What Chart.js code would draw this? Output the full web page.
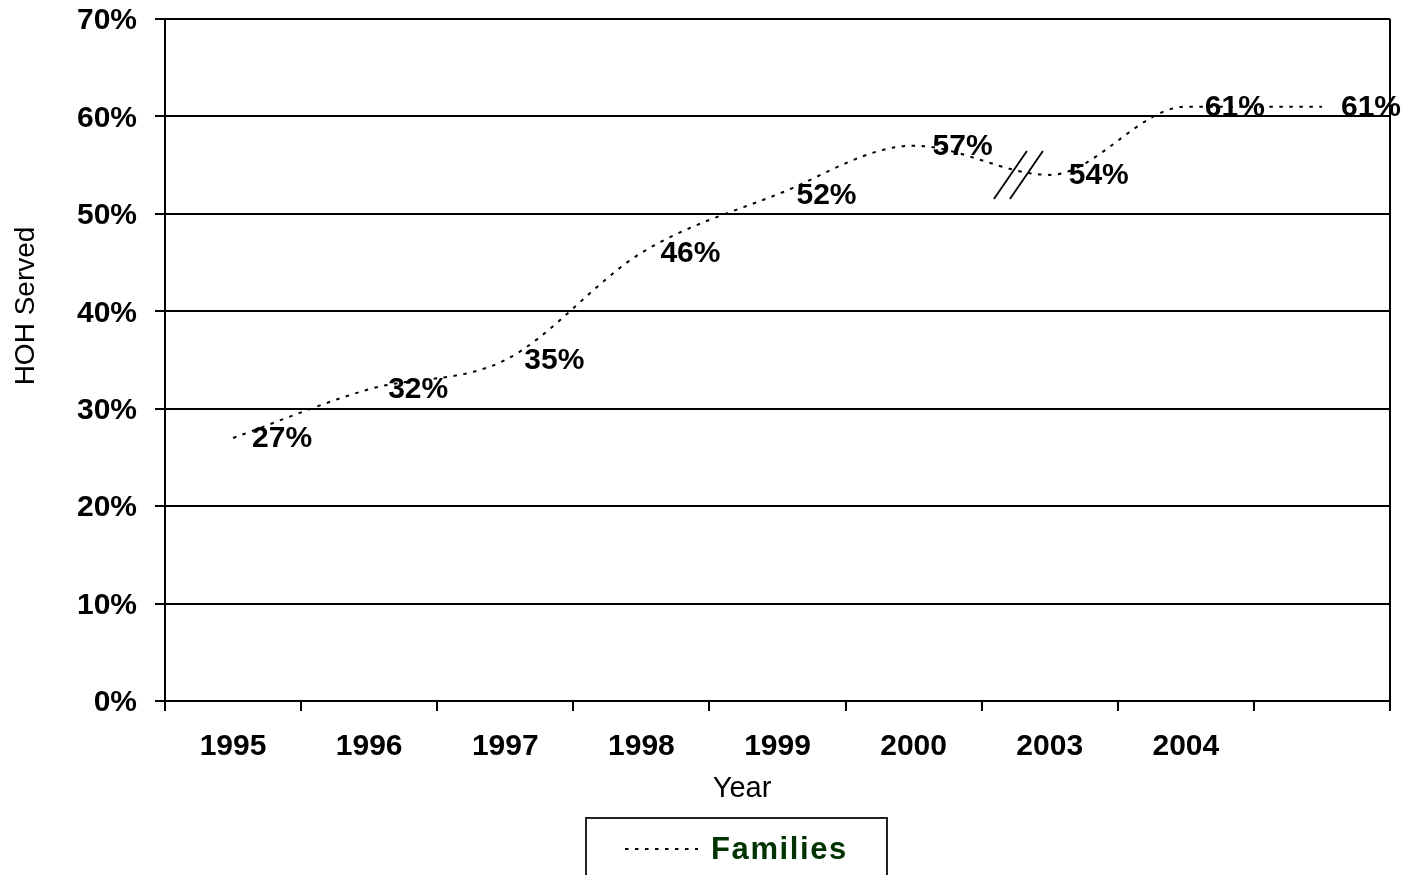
<!DOCTYPE html>
<html>
<head>
<meta charset="utf-8">
<title>HOH Served</title>
<script src="https://cdn.jsdelivr.net/npm/chart.js@4.4.0/dist/chart.umd.min.js"></script>
<style>
  html, body { margin: 0; padding: 0; background: #fff; }
  #wrap { width: 1403px; height: 875px; position: relative; }
</style>
</head>
<body>
<div id="wrap"><canvas id="hohChart"></canvas></div>
<script>
const years = ['1995', '1996', '1997', '1998', '1999', '2000', '2003', '2004', ''];
const familiesServed = [27, 32, 35, 46, 52, 57, 54, 61, 61];
const yTicks = [0, 10, 20, 30, 40, 50, 60, 70];

const FONT = "'Liberation Sans', Arial, Helvetica, sans-serif";

// value labels, drawn before the line so the dots run over them like the original
const pointLabels = {
  id: 'pointLabels',
  beforeDatasetsDraw(chart) {
    const ctx = chart.ctx;
    const meta = chart.getDatasetMeta(0);
    ctx.save();
    ctx.font = 'bold 30px ' + FONT;
    ctx.fillStyle = '#000';
    ctx.textAlign = 'left';
    ctx.textBaseline = 'middle';
    meta.data.forEach((pt, i) => {
      ctx.fillText(familiesServed[i] + '%', pt.x + 19, pt.y + 1);
    });
    ctx.restore();
  }
};

// right border of plot + the "//" axis break between 2000 and 2003
const frameAndBreak = {
  id: 'frameAndBreak',
  afterDraw(chart) {
    const ctx = chart.ctx;
    const area = chart.chartArea;
    const x = chart.scales.x, y = chart.scales.y;
    ctx.save();
    ctx.strokeStyle = '#000';
    ctx.lineWidth = 2;
    ctx.beginPath();
    ctx.moveTo(area.right, area.top);
    ctx.lineTo(area.right, area.bottom);
    ctx.stroke();

    const cx = x.getPixelForValue(5.77);
    const cy = y.getPixelForValue(54);
    ctx.lineWidth = 1.8;
    [-8, 8].forEach(dx => {
      ctx.beginPath();
      ctx.moveTo(cx + dx - 16.5, cy + 24);
      ctx.lineTo(cx + dx + 16.5, cy - 24);
      ctx.stroke();
    });
    ctx.restore();
  }
};

// axis titles (off-centre in the original) and the boxed legend
const titlesAndLegend = {
  id: 'titlesAndLegend',
  afterDraw(chart) {
    const ctx = chart.ctx;
    ctx.save();
    ctx.fillStyle = '#000';
    ctx.textAlign = 'center';
    ctx.textBaseline = 'middle';
    ctx.font = '29px ' + FONT;
    ctx.fillText('Year', 742, 789);

    ctx.save();
    ctx.translate(26, 306);
    ctx.rotate(-Math.PI / 2);
    ctx.font = '28px ' + FONT;
    ctx.fillText('HOH Served', 0, 0);
    ctx.restore();

    const left = 586, top = 818, w = 301, h = 70;
    ctx.strokeStyle = '#222';
    ctx.lineWidth = 2;
    ctx.strokeRect(left, top, w, h);
    const midY = top + 31;
    ctx.setLineDash([3.5, 6.5]);
    ctx.lineWidth = 2;
    ctx.strokeStyle = '#000';
    ctx.beginPath();
    ctx.moveTo(left + 39, midY);
    ctx.lineTo(left + 112, midY);
    ctx.stroke();
    ctx.setLineDash([]);
    ctx.font = 'bold 31px ' + FONT;
    ctx.letterSpacing = '1.6px';
    ctx.fillStyle = '#003300';
    ctx.textAlign = 'left';
    ctx.fillText('Families', left + 125, midY + 1);
    ctx.restore();
  }
};

const ctx = document.getElementById('hohChart').getContext('2d');

const hohChart = new Chart(ctx, {
  type: 'line',
  data: {
    labels: years,
    datasets: [{
      label: 'Families',
      data: familiesServed,
      borderColor: '#000',
      borderWidth: 2,
      borderDash: [3.5, 6.5],
      pointRadius: 0,
      fill: false,
      cubicInterpolationMode: 'monotone'
    }]
  },
  options: {
    responsive: true,
    maintainAspectRatio: false,
    animation: false,
    layout: { padding: { top: 0, right: 13, bottom: 0, left: 0 } },
    plugins: {
      legend: { display: false },
      tooltip: { enabled: false }
    },
    scales: {
      x: {
        offset: true,
        grid: { drawOnChartArea: false, color: '#000', lineWidth: 2, tickLength: 10, offset: true },
        border: { color: '#000', width: 2 },
        ticks: {
          color: '#000',
          font: { family: FONT, size: 30, weight: 'bold' },
          padding: 18,
          autoSkip: false,
          maxRotation: 0
        },
        afterFit(axis) {
          axis.height = 174;
        }
      },
      y: {
        min: yTicks[0],
        max: yTicks[yTicks.length - 1],
        afterBuildTicks(axis) {
          axis.ticks = yTicks.map(v => ({ value: v }));
        },
        grid: { color: '#000', lineWidth: 2, tickLength: 10 },
        border: { color: '#000', width: 2 },
        ticks: {
          color: '#000',
          font: { family: FONT, size: 30, weight: 'bold' },
          padding: 18,
          labelOffset: 2,
          callback: v => v + '%'
        },
        afterFit(axis) {
          axis.width = 165;
          axis.paddingTop = 19;
          axis.paddingBottom = 0;
        }
      }
    }
  },
  plugins: [pointLabels, frameAndBreak, titlesAndLegend]
});
</script>
</body>
</html>
